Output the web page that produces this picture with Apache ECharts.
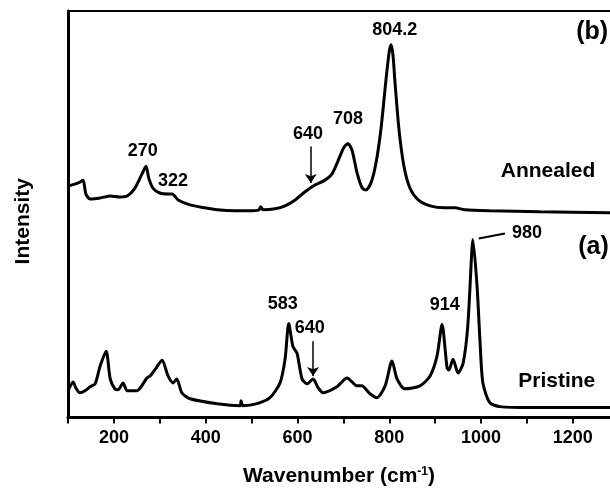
<!DOCTYPE html>
<html>
<head>
<meta charset="utf-8">
<script src="https://cdn.jsdelivr.net/npm/echarts@6/dist/echarts.min.js"></script>
<style>
html, body { margin: 0; padding: 0; background: #fff; }
#chart { width: 610px; height: 492px; }
</style>
</head>
<body>
<div id="chart"></div>
<script>
// annealed spectrum (b), offset upward
var wnAnnealed = [100,115,126,133,139,148,170,192,213,229,246,261,270,276,285,300,318,327,340,366,398,425,464,497,516,520,525,551,573,595,616,638,660,675,688,701,710,719,730,741,749,760,771,782,793,800,804,808,812,821,832,845,863,889,921,943,965,1019,1128,1281];
var intAnnealed = [234,236,238,240,226,221,222,224,223,224,232,246,254,242,232,227,226,226,220,215,212,210,209,209,210,213,210,211,214,220,228,235,240,246,259,273,277,270,247,232,230,237,257,292,342,370,377,367,342,292,254,232,220,214,212,212,210,209,208,207];

// pristine spectrum (a)
var wnPristine = [102,111,117,126,137,148,159,170,183,192,202,209,220,229,250,272,279,292,305,318,329,337,348,366,425,475,477,481,512,540,562,573,581,590,599,610,621,634,645,656,686,708,730,740,758,773,791,806,817,834,867,889,904,915,926,930,939,950,961,971,980,982,991,998,1004,1019,1041,1107,1281];
var intPristine = [29,36,30,25,27,31,34,52,67,39,29,28,35,27,27,40,42,50,58,42,35,39,25,19,14,12,17,12,14,20,35,59,95,72,65,39,34,39,30,25,31,40,32,32,24,20,32,57,39,29,32,42,62,94,50,48,59,45,55,92,169,180,135,75,35,15,11,10,10];

// peak labels [text, wavenumber, height]
var peakLabels = [
    ['270', 263, 269],
    ['322', 329, 239],
    ['640', 623, 287],
    ['708', 710, 302],
    ['804.2', 812, 392],
    ['583', 568, 115],
    ['640', 627, 90],
    ['914', 921, 114],
    ['980', 1100, 187]
];
var sampleLabels = [
    ['Annealed', 1146, 249],
    ['Pristine', 1165, 37]
];
var panelLabels = [
    ['(b)', 1242, 390],
    ['(a)', 1245, 172]
];
// arrows [x, yFrom, yTo]
var arrows = [
    [629, 274, 237],
    [634, 77, 42]
];
var leader980 = [[995, 181], [1052, 186]];

var xTicks = [200, 400, 600, 800, 1000, 1200];

var font = 'Liberation Sans, Arial, sans-serif';

function pairs(xs, ys) {
    var out = [];
    xs.forEach(function (x, i) { out.push([x, ys[i]]); });
    return out;
}
function textPoints(list) {
    return list.map(function (d) { return { name: d[0], value: [d[1], d[2]] }; });
}
function textLabel(size) {
    return {
        show: true, position: 'inside', formatter: '{b}',
        fontFamily: font, fontWeight: 'bold', fontSize: size,
        color: '#000', textBorderWidth: 0, opacity: 1
    };
}

var myChart = echarts.init(document.getElementById('chart'));

var arrowLines = arrows.map(function (a) {
    return [{ coord: [a[0], a[1]] }, { coord: [a[0], a[2]] }];
});

myChart.setOption({
    animation: false,
    grid: { left: 68, right: 0, top: 11, bottom: 70 },
    xAxis: [{
        type: 'value',
        min: 100,
        max: 1281,
        interval: 100,
        name: 'Wavenumber (cm{sup|-1})',
        nameLocation: 'middle',
        nameGap: 48,
        nameTextStyle: {
            fontFamily: font, fontWeight: 'bold', fontSize: 21, color: '#000',
            rich: { sup: { fontFamily: font, fontWeight: 'bold', fontSize: 12, color: '#000', verticalAlign: 'top', padding: [0, 0, 10, 0] } }
        },
        axisLine: { show: true, lineStyle: { color: '#000', width: 3 } },
        axisTick: { show: true, inside: false, length: 6, lineStyle: { color: '#000', width: 2 } },
        axisLabel: {
            margin: 12,
            fontFamily: font, fontWeight: 'bold', fontSize: 18, color: '#000',
            showMaxLabel: false,
            formatter: function (v) { return xTicks.indexOf(v) >= 0 ? String(v) : ''; }
        },
        splitLine: { show: false }
    }, {
        type: 'value',
        position: 'top',
        min: 100,
        max: 1281,
        axisLine: { show: true, onZero: false, lineStyle: { color: '#000', width: 2 } },
        axisTick: { show: false },
        axisLabel: { show: false },
        splitLine: { show: false }
    }],
    yAxis: {
        type: 'value',
        min: 0,
        max: 411,
        name: 'Intensity',
        nameLocation: 'middle',
        nameGap: 34,
        nameTextStyle: { fontFamily: font, fontWeight: 'bold', fontSize: 21, color: '#000', padding: [0, 14, 0, 0] },
        axisLine: { show: true, lineStyle: { color: '#000', width: 3 } },
        axisTick: { show: false },
        axisLabel: { show: false },
        splitLine: { show: false }
    },
    series: [{
        name: 'Annealed',
        type: 'line',
        showSymbol: false,
        smooth: 0.25,
        data: pairs(wnAnnealed, intAnnealed),
        lineStyle: { color: '#000', width: 3 },
        markLine: {
            silent: true,
            symbol: ['none', 'arrow'],
            symbolSize: 9,
            label: { show: false },
            lineStyle: { color: '#000', width: 1.5, type: 'solid' },
            data: arrowLines
        }
    }, {
        name: 'Pristine',
        type: 'line',
        showSymbol: false,
        smooth: 0.25,
        data: pairs(wnPristine, intPristine),
        lineStyle: { color: '#000', width: 3 },
        markLine: {
            silent: true,
            symbol: ['none', 'none'],
            label: { show: false },
            lineStyle: { color: '#000', width: 2, type: 'solid' },
            data: [[{ coord: leader980[0] }, { coord: leader980[1] }]]
        }
    }, {
        type: 'scatter',
        symbolSize: 0,
        itemStyle: { opacity: 1 },
        data: textPoints(peakLabels),
        label: textLabel(18)
    }, {
        type: 'scatter',
        symbolSize: 0,
        itemStyle: { opacity: 1 },
        data: textPoints(sampleLabels),
        label: textLabel(21)
    }, {
        type: 'scatter',
        symbolSize: 0,
        itemStyle: { opacity: 1 },
        data: textPoints(panelLabels),
        label: textLabel(25)
    }]
});
</script>
</body>
</html>
